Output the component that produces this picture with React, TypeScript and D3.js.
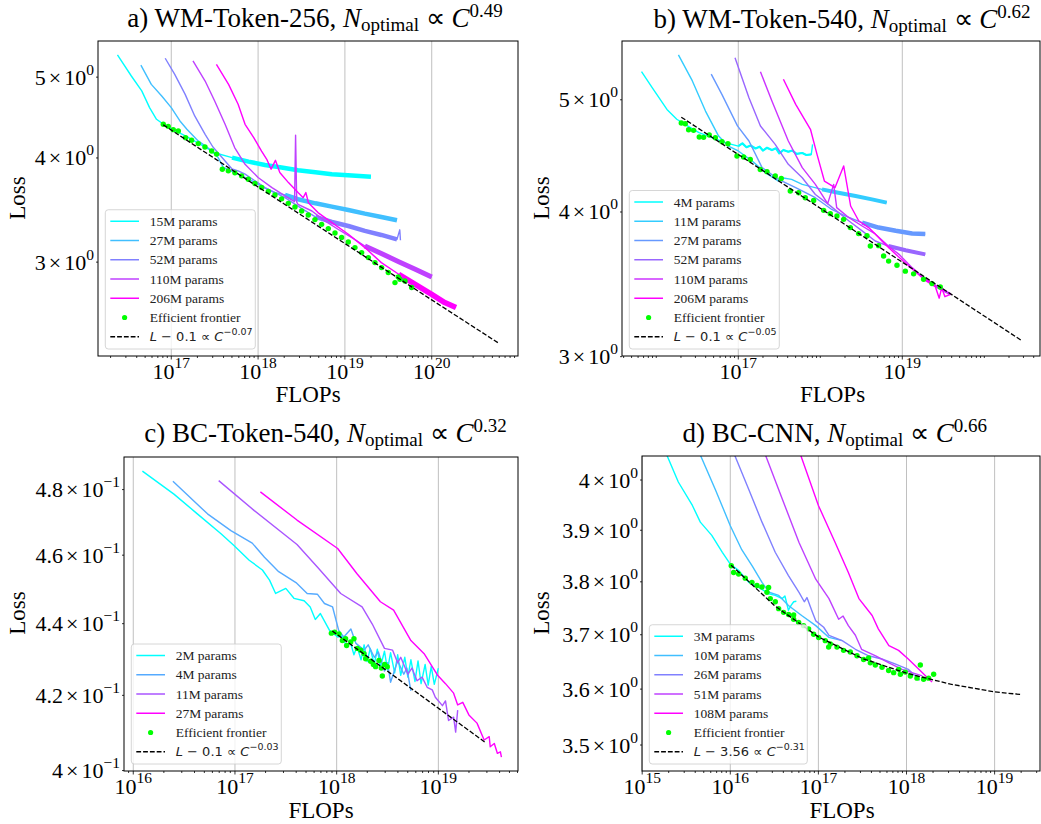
import React from 'react'
import * as d3 from 'd3'

type Pt = [number, number] // [log10 FLOPs, loss]

// ---------- a) WM-Token-256 ----------
const paramsA = ['15M params', '27M params', '52M params', '110M params', '206M params']
const lossA15: Pt[] = [[16.38, 5.316], [16.54, 5.016], [16.66, 4.814], [16.75, 4.597], [16.83, 4.451], [16.91, 4.390], [17.04, 4.318], [17.20, 4.231], [17.35, 4.145], [17.50, 4.058], [17.70, 4.004], [17.89, 3.960], [18.08, 3.923], [18.27, 3.896], [18.46, 3.867], [18.66, 3.846], [18.85, 3.825], [19.08, 3.811], [19.30, 3.797]]
const lossA27: Pt[] = [[16.65, 5.170], [16.77, 4.901], [16.89, 4.746], [17.00, 4.597], [17.10, 4.430], [17.18, 4.330], [17.31, 4.193], [17.43, 4.108], [17.54, 4.004], [17.60, 3.896], [17.77, 3.825], [17.93, 3.755], [18.08, 3.680], [18.19, 3.636], [18.31, 3.612], [18.46, 3.569], [18.66, 3.529], [18.85, 3.497], [19.04, 3.465], [19.23, 3.430], [19.42, 3.399], [19.60, 3.368]]
const lossA52: Pt[] = [[16.93, 5.268], [17.04, 5.039], [17.16, 4.768], [17.27, 4.492], [17.39, 4.270], [17.48, 4.123], [17.62, 3.967], [17.70, 3.880], [17.77, 3.860], [17.85, 3.825], [18.08, 3.686], [18.31, 3.585], [18.50, 3.480], [18.66, 3.399], [18.85, 3.352], [19.04, 3.315], [19.23, 3.270], [19.42, 3.234], [19.60, 3.195], [19.632, 3.28], [19.64, 3.187]]
const lossA110: Pt[] = [[17.25, 5.229], [17.39, 4.947], [17.50, 4.681], [17.62, 4.390], [17.73, 4.116], [17.85, 3.931], [18.00, 3.790], [18.16, 3.686], [18.31, 3.602], [18.42, 3.545], [18.432, 4.259], [18.445, 3.540], [18.46, 3.519], [18.62, 3.455], [18.77, 3.362], [18.92, 3.285], [19.08, 3.210], [19.23, 3.137], [19.42, 3.072], [19.62, 3.004], [19.81, 2.941], [20.00, 2.879]]
const lossA206: Pt[] = [[17.52, 5.181], [17.66, 4.901], [17.77, 4.639], [17.85, 4.390], [17.95, 4.231], [18.04, 4.077], [18.10, 3.985], [18.15, 3.878], [18.20, 3.974], [18.25, 3.843], [18.35, 3.737], [18.46, 3.636], [18.52, 3.585], [18.55, 3.636], [18.58, 3.535], [18.69, 3.440], [18.85, 3.346], [19.04, 3.240], [19.23, 3.123], [19.42, 2.996], [19.62, 2.901], [19.81, 2.822], [20.00, 2.745], [20.15, 2.683], [20.28, 2.646]]
const frontierA: Pt[] = [[16.908, 4.390], [16.965, 4.365], [17.023, 4.325], [17.081, 4.309], [17.165, 4.231], [17.234, 4.200], [17.311, 4.162], [17.388, 4.123], [17.465, 4.077], [17.522, 4.043], [17.588, 3.878], [17.657, 3.860], [17.733, 3.839], [17.810, 3.807], [17.887, 3.772], [17.964, 3.727], [18.041, 3.686], [18.118, 3.646], [18.194, 3.612], [18.271, 3.573], [18.348, 3.529], [18.425, 3.494], [18.502, 3.455], [18.578, 3.417], [18.655, 3.374], [18.732, 3.330], [18.809, 3.291], [18.886, 3.252], [18.962, 3.211], [19.039, 3.172], [19.116, 3.123], [19.193, 3.080], [19.270, 3.038], [19.346, 2.996], [19.423, 2.955], [19.500, 2.915], [19.577, 2.835], [19.615, 2.879], [19.634, 2.861], [19.692, 2.848], [19.769, 2.797]]
const fitA: Pt[] = [[16.908, 4.383], [18, 3.692], [19, 3.158], [20, 2.703], [20.767, 2.400]]
const yTicksA = [3, 4, 5]
const yMantA = ['3', '4', '5']

// ---------- b) WM-Token-540 ----------
const paramsB = ['4M params', '11M params', '27M params', '52M params', '110M params', '206M params']
const lossB4: Pt[] = [[15.82, 5.287], [15.95, 5.122], [16.13, 4.905], [16.25, 4.810], [16.35, 4.762], [16.52, 4.684], [16.68, 4.637], [16.84, 4.591], [16.92, 4.576], [17.00, 4.560], [17.05, 4.585], [17.10, 4.550], [17.15, 4.565], [17.21, 4.539], [17.26, 4.555], [17.30, 4.520], [17.35, 4.545], [17.41, 4.524], [17.46, 4.540], [17.50, 4.495], [17.55, 4.525], [17.61, 4.509], [17.66, 4.520], [17.71, 4.490], [17.78, 4.498], [17.83, 4.480], [17.89, 4.486], [17.906, 4.576]]
const lossB11: Pt[] = [[16.27, 5.467], [16.44, 5.191], [16.60, 4.889], [16.76, 4.652], [16.88, 4.560], [17.00, 4.516], [17.17, 4.427], [17.33, 4.325], [17.49, 4.254], [17.55, 4.280], [17.65, 4.268], [17.78, 4.226], [18.02, 4.184], [18.22, 4.156], [18.43, 4.129], [18.63, 4.102], [18.81, 4.075]]
const lossB27: Pt[] = [[16.67, 5.261], [16.80, 5.054], [16.99, 4.747], [17.13, 4.607], [17.29, 4.369], [17.49, 4.268], [17.70, 4.199], [17.94, 4.115], [18.14, 4.020], [18.31, 3.968], [18.51, 3.916], [18.71, 3.878], [18.92, 3.853], [19.12, 3.833], [19.28, 3.828]]
const lossB52: Pt[] = [[16.96, 5.437], [17.13, 5.021], [17.27, 4.746], [17.45, 4.576], [17.61, 4.398], [17.78, 4.282], [17.94, 4.142], [18.10, 4.061], [18.35, 3.929], [18.51, 3.853], [18.67, 3.776], [18.83, 3.738], [19.04, 3.707], [19.28, 3.677]]
const lossB110: Pt[] = [[17.27, 5.287], [17.41, 4.988], [17.61, 4.607], [17.78, 4.369], [17.94, 4.226], [18.09, 4.067], [18.163, 4.226], [18.20, 4.035], [18.35, 3.955], [18.51, 3.890], [18.67, 3.829], [18.83, 3.738], [18.96, 3.677], [19.12, 3.581], [19.28, 3.499], [19.44, 3.441], [19.59, 3.396]]
const lossB206: Pt[] = [[17.55, 5.208], [17.70, 4.955], [17.88, 4.715], [17.96, 4.486], [18.05, 4.254], [18.18, 4.199], [18.285, 4.384], [18.37, 4.048], [18.47, 3.929], [18.59, 3.878], [18.67, 3.829], [18.79, 3.751], [18.92, 3.677], [19.08, 3.593], [19.24, 3.511], [19.40, 3.453], [19.45, 3.370], [19.48, 3.440], [19.52, 3.380], [19.585, 3.396]]
const frontierB: Pt[] = [[16.305, 4.774], [16.354, 4.767], [16.394, 4.711], [16.455, 4.705], [16.524, 4.643], [16.577, 4.640], [16.646, 4.662], [16.720, 4.637], [16.801, 4.600], [16.874, 4.582], [16.984, 4.471], [17.065, 4.462], [17.146, 4.441], [17.268, 4.353], [17.350, 4.334], [17.451, 4.297], [17.524, 4.276], [17.634, 4.170], [17.736, 4.156], [17.817, 4.115], [17.919, 4.093], [18.041, 4.013], [18.122, 3.987], [18.203, 3.968], [18.285, 3.942], [18.366, 3.878], [18.467, 3.832], [18.569, 3.815], [18.610, 3.738], [18.711, 3.741], [18.772, 3.665], [18.833, 3.628], [18.935, 3.598], [19.037, 3.556], [19.138, 3.537], [19.260, 3.499], [19.362, 3.469], [19.463, 3.446]]
const fitB: Pt[] = [[16.305, 4.83], [18, 4.03], [19, 3.62], [20.448, 3.10]]
const yTicksB = [3, 4, 5]
const yMantB = ['3', '4', '5']

// ---------- c) BC-Token-540 ----------
const paramsC = ['2M params', '4M params', '11M params', '27M params']
const lossC2: Pt[] = [[16.09, 0.4858], [16.40, 0.4786], [16.63, 0.4725], [16.86, 0.4665], [16.99, 0.4629], [17.14, 0.4585], [17.27, 0.4556], [17.34, 0.4526], [17.40, 0.4487], [17.50, 0.4502], [17.58, 0.4473], [17.68, 0.4466], [17.74, 0.4448], [17.79, 0.4412], [17.84, 0.4429], [17.93, 0.4381], [18.01, 0.4362], [18.05, 0.4365], [18.10, 0.4335], [18.13, 0.4352], [18.17, 0.4312], [18.20, 0.4335], [18.24, 0.4298], [18.27, 0.4340], [18.30, 0.4293], [18.33, 0.4330], [18.37, 0.4285], [18.40, 0.4328], [18.43, 0.4278], [18.47, 0.4322], [18.50, 0.4270], [18.53, 0.4318], [18.57, 0.4262], [18.60, 0.4312], [18.63, 0.4255], [18.67, 0.4305], [18.70, 0.4250], [18.73, 0.4298], [18.77, 0.4238], [18.80, 0.4295], [18.83, 0.4232], [18.87, 0.4285], [18.90, 0.4228], [18.93, 0.4280], [18.96, 0.4230], [19.00, 0.4275]]
const lossC4: Pt[] = [[16.39, 0.4826], [16.73, 0.4725], [16.96, 0.4674], [17.17, 0.4636], [17.29, 0.4594], [17.43, 0.4551], [17.60, 0.4519], [17.71, 0.4487], [17.81, 0.4485], [17.88, 0.4458], [17.96, 0.4448], [18.02, 0.4381], [18.07, 0.4362], [18.14, 0.4385], [18.19, 0.4344], [18.27, 0.4325], [18.31, 0.4340], [18.37, 0.4305], [18.41, 0.4320], [18.47, 0.4267], [18.50, 0.4290], [18.53, 0.4236], [18.60, 0.4295], [18.66, 0.4258], [18.69, 0.4275], [18.73, 0.4212]]
const lossC11: Pt[] = [[16.84, 0.4828], [17.19, 0.4735], [17.61, 0.4632], [17.81, 0.4565], [18.04, 0.4487], [18.25, 0.4448], [18.35, 0.4399], [18.47, 0.4330], [18.55, 0.4325], [18.60, 0.4290], [18.63, 0.4305], [18.70, 0.4258], [18.74, 0.4275], [18.79, 0.4240], [18.84, 0.4250], [18.89, 0.4222], [18.94, 0.4215], [18.97, 0.4195], [19.04, 0.4172], [19.07, 0.4185], [19.10, 0.4132], [19.15, 0.4141], [19.17, 0.4101], [19.19, 0.4160]]
const lossC27: Pt[] = [[17.25, 0.4793], [17.61, 0.4706], [18.01, 0.4620], [18.20, 0.4545], [18.43, 0.4463], [18.56, 0.4439], [18.73, 0.4352], [18.86, 0.4315], [18.99, 0.4256], [19.07, 0.4232], [19.15, 0.4206], [19.19, 0.4174], [19.24, 0.4181], [19.30, 0.4147], [19.38, 0.4125], [19.45, 0.4080], [19.50, 0.4089], [19.51, 0.4062], [19.55, 0.4071], [19.58, 0.4045], [19.61, 0.4049], [19.62, 0.4035]]
const frontierC: Pt[] = [[17.948, 0.4373], [17.980, 0.4376], [18.023, 0.4371], [18.056, 0.4352], [18.088, 0.4357], [18.098, 0.4338], [18.138, 0.4348], [18.170, 0.4357], [18.203, 0.4330], [18.236, 0.4325], [18.269, 0.4315], [18.285, 0.4301], [18.334, 0.4294], [18.361, 0.4285], [18.383, 0.4279], [18.416, 0.4296], [18.439, 0.4275], [18.472, 0.4285], [18.498, 0.4279], [18.449, 0.4253]]
const fitC: Pt[] = [[17.957, 0.4379], [19.465, 0.4073]]
const yTicksC = [0.40, 0.42, 0.44, 0.46, 0.48]
const yMantC = ['4', '4.2', '4.4', '4.6', '4.8']

// ---------- d) BC-CNN ----------
const paramsD = ['3M params', '10M params', '26M params', '51M params', '108M params']
const lossD3: Pt[] = [[15.26, 4.059], [15.41, 3.996], [15.57, 3.949], [15.66, 3.916], [15.79, 3.890], [15.91, 3.857], [16.00, 3.834], [16.10, 3.821], [16.21, 3.799], [16.32, 3.790], [16.44, 3.777], [16.51, 3.774], [16.59, 3.768], [16.62, 3.773], [16.66, 3.746], [16.69, 3.755], [16.72, 3.762], [16.75, 3.763]]
const lossD10: Pt[] = [[15.64, 4.059], [15.83, 3.981], [16.00, 3.909], [16.13, 3.862], [16.25, 3.830], [16.36, 3.799], [16.44, 3.780], [16.55, 3.774], [16.66, 3.755], [16.81, 3.736], [16.97, 3.717], [17.12, 3.695], [17.27, 3.689]]
const lossD26: Pt[] = [[16.03, 4.059], [16.21, 3.981], [16.36, 3.916], [16.51, 3.857], [16.66, 3.812], [16.78, 3.780], [16.84, 3.762], [16.87, 3.770], [16.93, 3.743], [16.97, 3.726], [17.06, 3.714], [17.12, 3.699], [17.27, 3.689], [17.42, 3.673], [17.57, 3.661], [17.72, 3.655], [17.87, 3.646], [18.02, 3.636], [18.15, 3.616]]
const lossD51: Pt[] = [[16.39, 4.055], [16.59, 3.962], [16.78, 3.876], [16.97, 3.805], [17.12, 3.768], [17.23, 3.729], [17.28, 3.735], [17.34, 3.717], [17.42, 3.699], [17.49, 3.673], [17.65, 3.661], [17.80, 3.648], [17.95, 3.636], [18.06, 3.630], [18.18, 3.624]]
const lossD108: Pt[] = [[16.79, 4.055], [17.00, 3.949], [17.19, 3.876], [17.34, 3.818], [17.46, 3.768], [17.61, 3.736], [17.68, 3.711], [17.80, 3.680], [17.91, 3.671], [18.02, 3.655], [18.14, 3.636], [18.25, 3.619], [18.29, 3.613]]
const frontierD: Pt[] = [[16.011, 3.831], [16.038, 3.818], [16.095, 3.815], [16.170, 3.807], [16.246, 3.799], [16.303, 3.793], [16.359, 3.790], [16.416, 3.780], [16.454, 3.768], [16.511, 3.762], [16.549, 3.749], [16.605, 3.742], [16.662, 3.738], [16.719, 3.729], [16.776, 3.723], [16.832, 3.717], [16.889, 3.711], [16.946, 3.701], [17.003, 3.695], [17.078, 3.689], [17.135, 3.683], [17.211, 3.677], [17.286, 3.671], [17.362, 3.668], [17.438, 3.661], [17.513, 3.654], [17.589, 3.648], [17.646, 3.644], [17.722, 3.640], [17.797, 3.634], [17.854, 3.630], [17.930, 3.627], [17.986, 3.631], [18.043, 3.624], [18.119, 3.620], [18.194, 3.618], [18.251, 3.620], [18.308, 3.627], [18.157, 3.644], [17.911, 3.636], [17.570, 3.657], [17.116, 3.677], [16.719, 3.737], [16.435, 3.789]]
const fitD: Pt[] = [[16.01, 3.832], [16.5, 3.755], [17, 3.696], [17.5, 3.656], [18, 3.629], [18.5, 3.609], [19, 3.595], [19.31, 3.590]]
const yTicksD = [3.5, 3.6, 3.7, 3.8, 3.9, 4.0]
const yMantD = ['3.5', '3.6', '3.7', '3.8', '3.9', '4']

const SERIF = '"Liberation Serif", "Times New Roman", serif'
const SANS = '"DejaVu Sans", sans-serif'

type Band = { from: number; to: number; w: number } | null
type PanelCfg = {
  id: string
  prefix: string
  exp: string
  params: string[]
  curves: Pt[][]
  bands: Band[]
  frontier: Pt[]
  fit: Pt[]
  fitOffset: string
  fitExp: string
  box: { left: number; top: number; right: number; bottom: number }
  xDom: [number, number]
  yDom: [number, number]
  xTicks: number[]
  yTicks: number[]
  yMant: string[]
  yExp: string
  title: [number, number]
  lossPos: [number, number]
  flopsPos: [number, number]
  legendW: number
}

const panels: PanelCfg[] = [
  {
    id: 'a', prefix: 'a) WM-Token-256, ', exp: '0.49', params: paramsA,
    curves: [lossA15, lossA27, lossA52, lossA110, lossA206],
    bands: [{ from: 17.6, to: 99, w: 4.5 }, { from: 18.25, to: 99, w: 4.5 }, { from: 18.6, to: 19.61, w: 4.5 }, { from: 19.1, to: 99, w: 5 }, { from: 19.55, to: 99, w: 5.5 }],
    frontier: frontierA, fit: fitA, fitOffset: '0.1', fitExp: '−0.07',
    box: { left: 98, top: 41, right: 518, bottom: 356 }, xDom: [16.156, 20.994], yDom: [2.315, 5.525],
    xTicks: [17, 18, 19, 20], yTicks: yTicksA, yMant: yMantA, yExp: '0',
    title: [315, 27], lossPos: [25, 198], flopsPos: [308, 402], legendW: 150,
  },
  {
    id: 'b', prefix: 'b) WM-Token-540, ', exp: '0.62', params: paramsB,
    curves: [lossB4, lossB11, lossB27, lossB52, lossB110, lossB206],
    bands: [{ from: 17.0, to: 17.9, w: 2.2 }, { from: 18.0, to: 99, w: 4 }, { from: 18.45, to: 99, w: 4.5 }, { from: 18.75, to: 99, w: 4 }, { from: 19.2, to: 99, w: 2.5 }, { from: 19.2, to: 19.42, w: 2.5 }],
    frontier: frontierB, fit: fitB, fitOffset: '0.1', fitExp: '−0.05',
    box: { left: 622, top: 41, right: 1040, bottom: 356 }, xDom: [15.582, 20.679], yDom: [3.004, 5.62],
    xTicks: [17, 19], yTicks: yTicksB, yMant: yMantB, yExp: '0',
    title: [842, 27.5], lossPos: [549, 198], flopsPos: [832.5, 402], legendW: 150,
  },
  {
    id: 'c', prefix: 'c) BC-Token-540, ', exp: '0.32', params: paramsC,
    curves: [lossC2, lossC4, lossC11, lossC27],
    bands: [null, null, null, null],
    frontier: frontierC, fit: fitC, fitOffset: '0.1', fitExp: '−0.03',
    box: { left: 124, top: 457, right: 518, bottom: 771 }, xDom: [15.909, 19.783], yDom: [0.39988, 0.49026],
    xTicks: [16, 17, 18, 19], yTicks: yTicksC, yMant: yMantC, yExp: '−1',
    title: [325.5, 441.7], lossPos: [25, 613], flopsPos: [321, 818], legendW: 150,
  },
  {
    id: 'd', prefix: 'd) BC-CNN, ', exp: '0.66', params: paramsD,
    curves: [lossD3, lossD10, lossD26, lossD51, lossD108],
    bands: [null, null, null, null, null],
    frontier: frontierD, fit: fitD, fitOffset: '3.56', fitExp: '−0.31',
    box: { left: 642, top: 456, right: 1040, bottom: 771 }, xDom: [14.998, 19.515], yDom: [3.4545, 4.0487],
    xTicks: [15, 16, 17, 18, 19], yTicks: yTicksD, yMant: yMantD, yExp: '0',
    title: [834.7, 441.7], lossPos: [549, 613], flopsPos: [842, 818], legendW: 158,
  },
]

const coolColor = (i: number, n: number) => d3.interpolateRgb('#00ffff', '#ff00ff')(n === 1 ? 0 : i / (n - 1))

function Panel({ cfg }: { cfg: PanelCfg }) {
  const { box } = cfg
  const x = d3.scaleLog().domain([10 ** cfg.xDom[0], 10 ** cfg.xDom[1]]).range([box.left, box.right])
  const y = d3.scaleLog().domain(cfg.yDom).range([box.bottom, box.top])
  const line = d3.line<Pt>().x(d => x(10 ** d[0])).y(d => y(d[1]))
  const n = cfg.curves.length

  const xMinor: { v: number; major: boolean }[] = []
  for (let k = Math.floor(cfg.xDom[0]); k <= Math.ceil(cfg.xDom[1]); k++) {
    for (let s = 1; s < 10; s++) {
      const v = s * 10 ** k
      if (v >= 10 ** cfg.xDom[0] && v <= 10 ** cfg.xDom[1]) xMinor.push({ v, major: s === 1 && cfg.xTicks.includes(k) })
    }
  }

  const clipId = `clip-${cfg.id}`
  const rows = n + 2
  const rowH = 19.25
  const lgH = rows * rowH + 4.5
  const lgL = box.left + 7.3
  const lgT = box.bottom - 7 - lgH
  const rowY = (i: number) => lgT + 11.5 + i * rowH

  return (
    <g>
      <defs>
        <clipPath id={clipId}>
          <rect x={box.left} y={box.top} width={box.right - box.left} height={box.bottom - box.top} />
        </clipPath>
      </defs>
      {cfg.xTicks.map(t => (
        <line key={`g${t}`} x1={x(10 ** t)} x2={x(10 ** t)} y1={box.top} y2={box.bottom} stroke="#b0b0b0" strokeWidth={0.8} />
      ))}
      <g clipPath={`url(#${clipId})`}>
        {cfg.curves.map((c, i) => {
          const b = cfg.bands[i]
          return (
            <g key={`c${i}`}>
              <path d={line(c) || ''} fill="none" stroke={coolColor(i, n)} strokeWidth={1.4} strokeLinejoin="round" />
              {b && (
                <path d={line(c.filter(p => p[0] >= b.from && p[0] <= b.to)) || ''} fill="none"
                  stroke={coolColor(i, n)} strokeWidth={b.w} strokeLinejoin="round" strokeLinecap="butt" />
              )}
            </g>
          )
        })}
        {cfg.frontier.map((p, i) => (
          <circle key={`f${i}`} cx={x(10 ** p[0])} cy={y(p[1])} r={2.7} fill="#00ff00" />
        ))}
        <path d={line(cfg.fit) || ''} fill="none" stroke="#000" strokeWidth={1.3} strokeDasharray="4.8,2" />
      </g>

      {/* legend */}
      <rect x={lgL} y={lgT} width={cfg.legendW} height={lgH} rx={3} fill="#fff" fillOpacity={0.8} stroke="#cccccc" strokeWidth={0.8} />
      {cfg.params.map((name, i) => (
        <g key={`l${i}`}>
          <line x1={lgL + 5} x2={lgL + 33.7} y1={rowY(i)} y2={rowY(i)} stroke={coolColor(i, n)} strokeWidth={1.5} />
          <text x={lgL + 44.4} y={rowY(i) + 4.6} fontFamily={SERIF} fontSize={13.5} fill="#222">{name}</text>
        </g>
      ))}
      <circle cx={lgL + 19.3} cy={rowY(n)} r={2.6} fill="#00ff00" />
      <text x={lgL + 44.4} y={rowY(n) + 4.6} fontFamily={SERIF} fontSize={13.5} fill="#222">Efficient frontier</text>
      <line x1={lgL + 5} x2={lgL + 33.7} y1={rowY(n + 1)} y2={rowY(n + 1)} stroke="#000" strokeWidth={1.3} strokeDasharray="4.8,2" />
      <text x={lgL + 44.4} y={rowY(n + 1) + 4.6} fontFamily={SANS} fontSize={13} fill="#222">
        <tspan fontStyle="italic">L</tspan>
        <tspan> − {cfg.fitOffset} ∝ </tspan>
        <tspan fontStyle="italic">C</tspan>
        <tspan fontSize={9.5} dy={-6}>{cfg.fitExp}</tspan>
      </text>

      {/* frame */}
      <rect x={box.left} y={box.top} width={box.right - box.left} height={box.bottom - box.top} fill="none" stroke="#000" strokeWidth={1} />

      {/* x ticks */}
      {xMinor.map((t, i) => (
        <line key={`xt${i}`} x1={x(t.v)} x2={x(t.v)} y1={box.bottom} y2={box.bottom + (t.major ? 3.5 : 2)} stroke="#000" strokeWidth={0.8} />
      ))}
      {cfg.xTicks.map(t => (
        <text key={`xl${t}`} x={x(10 ** t)} y={box.bottom + 23} textAnchor="middle" fontFamily={SERIF} fontSize={22} fill="#000">
          <tspan>10</tspan>
          <tspan fontSize={15.5} dy={-11}>{t}</tspan>
        </text>
      ))}

      {/* y ticks */}
      {cfg.yTicks.map((t, i) => (
        <g key={`yt${i}`}>
          <line x1={box.left - 2} x2={box.left} y1={y(t)} y2={y(t)} stroke="#000" strokeWidth={0.8} />
          <text x={box.left - 4} y={y(t) + 7.5} textAnchor="end" fontFamily={SERIF} fontSize={22} fill="#000">
            <tspan>{cfg.yMant[i]}</tspan>
            <tspan dx={3}>×</tspan>
            <tspan dx={3}>10</tspan>
            <tspan fontSize={15.5} dy={-10}>{cfg.yExp}</tspan>
          </text>
        </g>
      ))}

      {/* axis labels */}
      <text transform={`translate(${cfg.lossPos[0]},${cfg.lossPos[1]}) rotate(-90)`} textAnchor="middle" fontFamily={SERIF} fontSize={23} fill="#000">Loss</text>
      <text x={cfg.flopsPos[0]} y={cfg.flopsPos[1]} textAnchor="middle" fontFamily={SERIF} fontSize={23} fill="#000">FLOPs</text>

      {/* title */}
      <text x={cfg.title[0]} y={cfg.title[1]} textAnchor="middle" fontFamily={SERIF} fontSize={27} fill="#000">
        <tspan>{cfg.prefix}</tspan>
        <tspan fontStyle="italic">N</tspan>
        <tspan fontSize={19} dy={4}>optimal</tspan>
        <tspan dy={-4}> ∝ </tspan>
        <tspan fontStyle="italic">C</tspan>
        <tspan fontSize={19} dy={-10}>{cfg.exp}</tspan>
      </text>
    </g>
  )
}

export default function App() {
  return (
    <svg width={1041} height={824} style={{ position: 'absolute', left: 0, top: 0, background: '#fff' }}>
      <rect width={1041} height={824} fill="#fff" />
      {panels.map(p => <Panel key={p.id} cfg={p} />)}
    </svg>
  )
}
